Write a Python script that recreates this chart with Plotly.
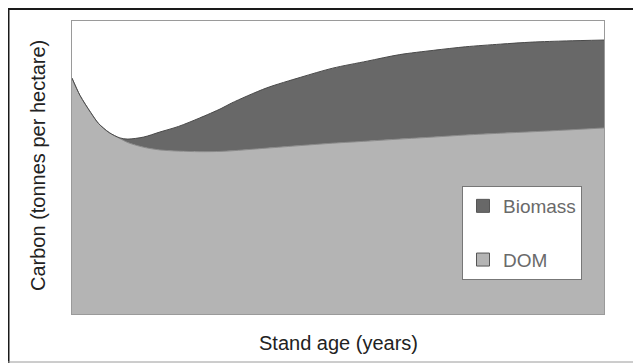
import plotly.graph_objects as go

# Stand age (years) and carbon pools (tonnes per hectare)
stand_age = [0, 3, 7, 10, 14, 18, 21, 27, 33, 40, 48, 56, 60, 73, 86, 98,
             111, 123, 136, 148, 161, 173, 186, 200]
dom = [80.5, 74.6, 68.8, 65.0, 61.9, 59.9, 58.5, 56.9, 56.0, 55.6, 55.4,
       55.5, 55.7, 56.6, 57.5, 58.3, 59.0, 59.7, 60.4, 61.1, 61.7, 62.2, 62.8, 63.5]
biomass = [0.0, 0.0, 0.0, 0.0, 0.0, 0.2, 1.2, 3.5, 6.1, 8.4, 11.5, 14.6,
           16.3, 20.5, 23.3, 25.6, 27.3, 28.8, 29.6, 30.1, 30.4, 30.6, 30.4, 30.0]

series_names = ["DOM", "Biomass"]
fill_colors = ["#b4b4b4", "#686868"]
edge_colors = ["#8a8a8a", "#4a4a4a"]

fig = go.Figure()
for name, vals, fc, ec in zip(series_names, [dom, biomass], fill_colors, edge_colors):
    fig.add_trace(go.Scatter(
        x=stand_age, y=vals, name=name, stackgroup="one", mode="lines",
        line=dict(color=ec, width=1, shape="spline", smoothing=0.8),
        fillcolor=fc, showlegend=False, hoverinfo="skip"))

# legend entries (square swatches), Biomass listed first
for name, fc in zip(series_names[::-1], fill_colors[::-1]):
    fig.add_trace(go.Scatter(
        x=[None], y=[None], name=name, mode="markers", legendgroup=name,
        marker=dict(symbol="square", size=13, color=fc,
                    line=dict(color="#555555", width=1))))

# figure coordinates (page has an 8px body margin)
L, R, T, B = 64, 596, 13, 306
W, H = 633, 355

def px(xp):
    return (xp - L) / (R - L)

def py(yp):
    return (B - yp) / (B - T)

fig.update_layout(
    width=W, height=H,
    margin=dict(l=L, r=W - R, t=T, b=H - B),
    paper_bgcolor="white", plot_bgcolor="white",
    font=dict(family="Liberation Sans, Arial, sans-serif", color="#222222"),
    xaxis=dict(range=[0, 200], showticklabels=False, ticks="", showgrid=False,
               zeroline=False, showline=True, linecolor="#9a9a9a", linewidth=1,
               mirror=True),
    yaxis=dict(range=[0, 100], showticklabels=False, ticks="", showgrid=False,
               zeroline=False, showline=True, linecolor="#9a9a9a", linewidth=1,
               mirror=True),
    legend=dict(x=px(454), y=py(178), xanchor="left", yanchor="top",
                bgcolor="white", bordercolor="#777777", borderwidth=1,
                traceorder="grouped", tracegroupgap=26, itemwidth=30,
                font=dict(size=19, color="#6a6a6a")),
    annotations=[
        dict(text="Stand age (years)", xref="paper", yref="paper",
             x=0.5, y=py(335), xanchor="center", yanchor="middle",
             showarrow=False, font=dict(size=20, color="#222222")),
        dict(text="Carbon (tonnes per hectare)", xref="paper", yref="paper",
             x=px(30), y=py(158), xanchor="center", yanchor="middle",
             textangle=-90, showarrow=False, font=dict(size=20, color="#222222")),
    ],
    shapes=[
        dict(type="line", xref="paper", yref="paper", x0=px(0), x1=px(W),
             y0=py(0.5), y1=py(0.5), line=dict(color="#1a1a1a", width=3)),
        dict(type="line", xref="paper", yref="paper", x0=px(0.5), x1=px(0.5),
             y0=py(0), y1=py(H), line=dict(color="#1a1a1a", width=2)),
        dict(type="line", xref="paper", yref="paper", x0=px(0), x1=px(W),
             y0=py(H - 1), y1=py(H - 1), line=dict(color="#9a9a9a", width=1)),
    ],
)

fig.write_html("out.html")
